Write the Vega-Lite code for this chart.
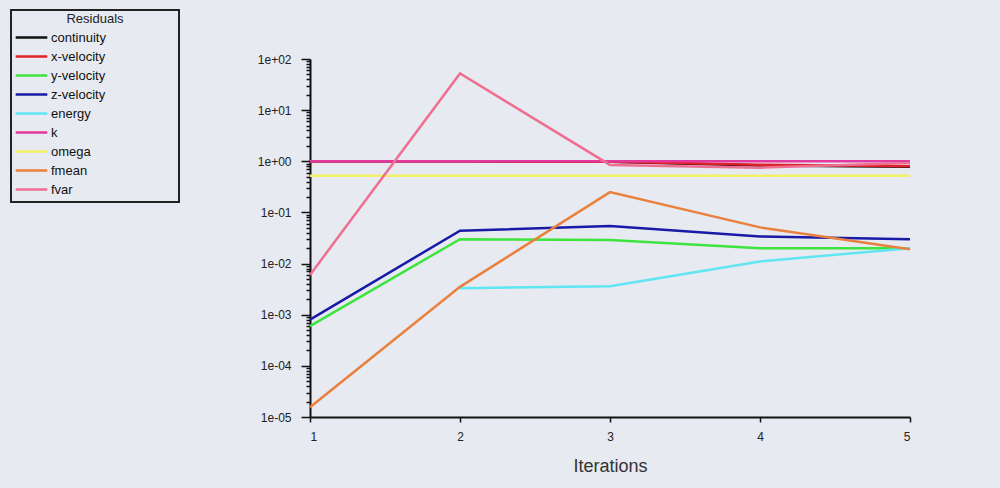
{
  "$schema": "https://vega.github.io/schema/vega-lite/v6.json",
  "width": 600,
  "height": 358,
  "autosize": {"type": "none"},
  "padding": {"left": 310, "top": 59, "right": 90, "bottom": 71},
  "background": "#e7eaf0",
  "config": {
    "view": {"stroke": null},
    "font": "Liberation Sans",
    "legend": {"strokeWidth": 2}
  },
  "data": {
    "values": [
      {"iter": 1, "series": "continuity", "value": 1},
      {"iter": 2, "series": "continuity", "value": 1},
      {"iter": 3, "series": "continuity", "value": 0.98},
      {"iter": 4, "series": "continuity", "value": 0.83},
      {"iter": 5, "series": "continuity", "value": 0.78},
      {"iter": 1, "series": "x-velocity", "value": 1},
      {"iter": 2, "series": "x-velocity", "value": 1},
      {"iter": 3, "series": "x-velocity", "value": 0.98},
      {"iter": 4, "series": "x-velocity", "value": 0.86},
      {"iter": 5, "series": "x-velocity", "value": 0.8},
      {"iter": 1, "series": "y-velocity", "value": 0.0006},
      {"iter": 2, "series": "y-velocity", "value": 0.030},
      {"iter": 3, "series": "y-velocity", "value": 0.029},
      {"iter": 4, "series": "y-velocity", "value": 0.020},
      {"iter": 5, "series": "y-velocity", "value": 0.020},
      {"iter": 1, "series": "z-velocity", "value": 0.0008},
      {"iter": 2, "series": "z-velocity", "value": 0.044},
      {"iter": 3, "series": "z-velocity", "value": 0.054},
      {"iter": 4, "series": "z-velocity", "value": 0.034},
      {"iter": 5, "series": "z-velocity", "value": 0.030},
      {"iter": 2, "series": "energy", "value": 0.0033},
      {"iter": 3, "series": "energy", "value": 0.0036},
      {"iter": 4, "series": "energy", "value": 0.011},
      {"iter": 5, "series": "energy", "value": 0.020},
      {"iter": 1, "series": "k", "value": 1},
      {"iter": 2, "series": "k", "value": 1},
      {"iter": 3, "series": "k", "value": 1},
      {"iter": 4, "series": "k", "value": 1},
      {"iter": 5, "series": "k", "value": 1},
      {"iter": 1, "series": "omega", "value": 0.52},
      {"iter": 2, "series": "omega", "value": 0.52},
      {"iter": 3, "series": "omega", "value": 0.52},
      {"iter": 4, "series": "omega", "value": 0.52},
      {"iter": 5, "series": "omega", "value": 0.52},
      {"iter": 1, "series": "fmean", "value": 0.0000155},
      {"iter": 2, "series": "fmean", "value": 0.0035},
      {"iter": 3, "series": "fmean", "value": 0.25},
      {"iter": 4, "series": "fmean", "value": 0.051},
      {"iter": 5, "series": "fmean", "value": 0.019},
      {"iter": 1, "series": "fvar", "value": 0.006},
      {"iter": 2, "series": "fvar", "value": 52},
      {"iter": 3, "series": "fvar", "value": 0.85},
      {"iter": 4, "series": "fvar", "value": 0.75},
      {"iter": 5, "series": "fvar", "value": 0.93}
    ]
  },
  "mark": {"type": "line", "strokeCap": "butt"},
  "encoding": {
    "x": {
      "field": "iter",
      "type": "quantitative",
      "scale": {"domain": [1, 5], "nice": false, "zero": false},
      "axis": {
        "values": [1, 2, 3, 4, 5],
        "format": "d",
        "title": "Iterations",
        "titleFont": "'Liberation Sans Narrow', 'Liberation Sans', sans-serif",
        "titleFontSize": 18,
        "titleFontWeight": "normal",
        "titleColor": "#333333",
        "titlePadding": 15,
        "labelFont": "'Liberation Sans Narrow', 'Liberation Sans', sans-serif",
        "labelFontSize": 12,
        "labelColor": "#222222",
        "labelPadding": 9,
        "tickSize": 5,
        "tickColor": "#111111",
        "tickWidth": 1.5,
        "domainColor": "#111111",
        "domainWidth": 2,
        "grid": false
      }
    },
    "y": {
      "field": "value",
      "type": "quantitative",
      "scale": {"type": "log", "domain": [0.00001, 100], "nice": false},
      "axis": {
        "title": null,
        "grid": false,
        "values": [0.00001, 0.00002, 0.00003, 0.00004, 0.00005, 0.00006, 0.00007, 0.00008, 0.00009,
                   0.0001, 0.0002, 0.0003, 0.0004, 0.0005, 0.0006, 0.0007, 0.0008, 0.0009,
                   0.001, 0.002, 0.003, 0.004, 0.005, 0.006, 0.007, 0.008, 0.009,
                   0.01, 0.02, 0.03, 0.04, 0.05, 0.06, 0.07, 0.08, 0.09,
                   0.1, 0.2, 0.3, 0.4, 0.5, 0.6, 0.7, 0.8, 0.9,
                   1, 2, 3, 4, 5, 6, 7, 8, 9,
                   10, 20, 30, 40, 50, 60, 70, 80, 90, 100],
        "labelExpr": "abs(log(datum.value)/LN10 - round(log(datum.value)/LN10)) < 0.000001 ? ('1e' + (datum.value >= 1 ? '+' : '-') + (abs(round(log(datum.value)/LN10)) < 10 ? '0' : '') + abs(round(log(datum.value)/LN10))) : ''",
        "labelOverlap": false,
        "labelFontSize": 12,
        "labelColor": "#222222",
        "labelPadding": 10,
        "tickSize": {"condition": {"test": "abs(log(datum.value)/LN10 - round(log(datum.value)/LN10)) < 0.000001", "value": 9}, "value": 4},
        "tickColor": "#111111",
        "tickWidth": 1.5,
        "domainColor": "#111111",
        "domainWidth": 2
      }
    },
    "color": {
      "field": "series",
      "type": "nominal",
      "sort": null,
      "scale": {
        "domain": ["continuity", "x-velocity", "y-velocity", "z-velocity", "energy", "k", "omega", "fmean", "fvar"],
        "range": ["#111111", "#e0202a", "#3ee43e", "#1a1aa8", "#5fe6f2", "#e2399e", "#f2f064", "#e9803d", "#ef6f92"]
      },
      "legend": {
        "title": "Residuals",
        "orient": "none",
        "legendX": -299,
        "legendY": -49,
        "titleAnchor": "middle",
        "titleFontSize": 13,
        "titleFontWeight": "normal",
        "titleColor": "#222222",
        "titlePadding": 2,
        "labelFontSize": 13,
        "labelColor": "#111111",
        "labelOffset": 2,
        "labelExpr": "datum.label + '\u2800\u2800\u2800\u2800\u2800\u2800\u2800'",
        "symbolType": "stroke",
        "symbolSize": 1000,
        "symbolStrokeWidth": 3,
        "clipHeight": 19,
        "rowPadding": 0,
        "padding": 3,
        "strokeColor": "#222222",
        "cornerRadius": 0
      }
    },
    "strokeWidth": {
      "field": "series",
      "type": "nominal",
      "scale": {
        "domain": ["continuity", "x-velocity", "y-velocity", "z-velocity", "energy", "k", "omega", "fmean", "fvar"],
        "range": [2.5, 2.5, 2.5, 2.5, 2.5, 2.5, 5, 2.5, 2.5]
      },
      "legend": null
    }
  }
}
